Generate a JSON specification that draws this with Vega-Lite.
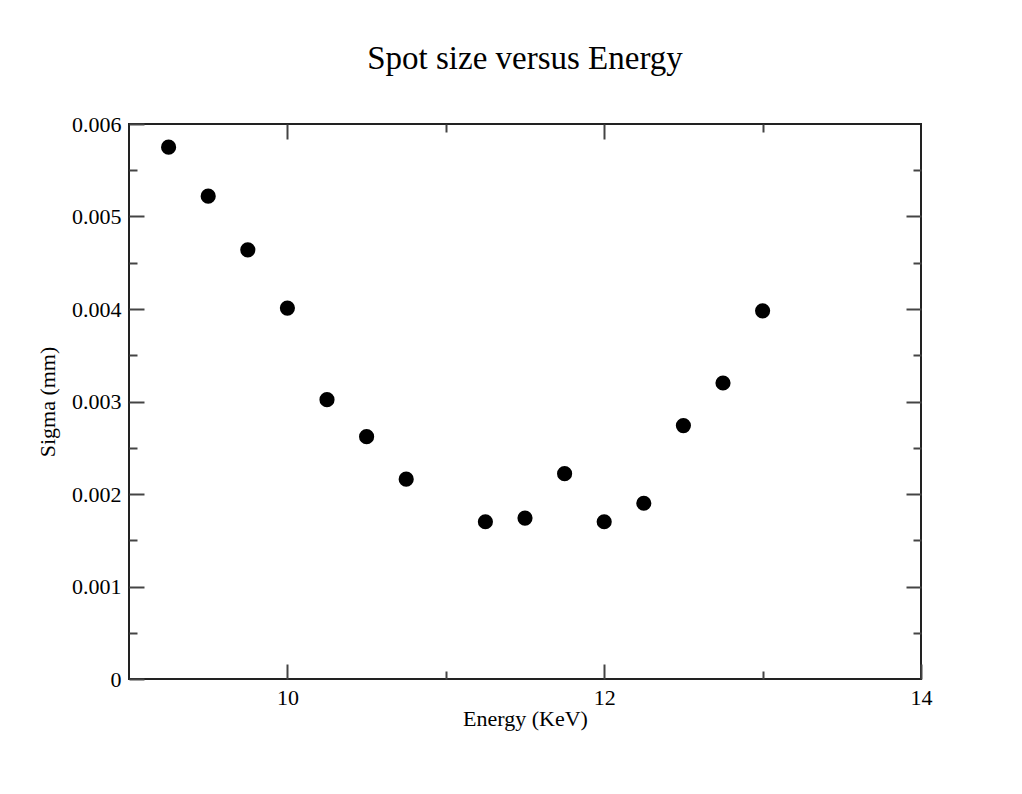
{
  "$schema": "https://vega.github.io/schema/vega-lite/v6.json",
  "autosize": "none",
  "width": 792,
  "height": 555,
  "padding": {"left": 129, "top": 124, "right": 101, "bottom": 115},
  "background": "white",
  "config": {
    "view": {"stroke": "#222", "strokeWidth": 2},
    "font": "Liberation Serif",
    "axis": {"domain": false, "grid": false, "labelFlush": false, "labelOverlap": false, "tickColor": "#444", "tickWidth": 2, "labelFont": "Liberation Serif", "labelFontSize": 22, "labelColor": "black", "titleFont": "Liberation Serif", "titleFontSize": 22, "titleFontWeight": "normal", "titleColor": "black"}
  },
  "title": {"text": "Spot size versus Energy", "font": "Liberation Serif", "fontSize": 33, "fontWeight": "normal", "color": "black", "offset": 37, "anchor": "middle"},
  "data": {"values": [
    {"energy": 9.25, "sigma": 0.00575},
    {"energy": 9.5, "sigma": 0.00522},
    {"energy": 9.75, "sigma": 0.00464},
    {"energy": 10, "sigma": 0.00401},
    {"energy": 10.25, "sigma": 0.00302},
    {"energy": 10.5, "sigma": 0.00262},
    {"energy": 10.75, "sigma": 0.00216},
    {"energy": 11.25, "sigma": 0.00170},
    {"energy": 11.5, "sigma": 0.00174},
    {"energy": 11.75, "sigma": 0.00222},
    {"energy": 12, "sigma": 0.00170},
    {"energy": 12.25, "sigma": 0.00190},
    {"energy": 12.5, "sigma": 0.00274},
    {"energy": 12.75, "sigma": 0.00320},
    {"energy": 13, "sigma": 0.00398}
  ]},
  "layer": [
    {
      "mark": {"type": "point", "filled": true, "color": "black", "opacity": 1, "size": 230},
      "encoding": {
        "x": {"field": "energy", "type": "quantitative", "scale": {"domain": [9, 14], "nice": false, "zero": false},
              "axis": {"orient": "bottom", "values": [10, 12, 14], "format": "~g", "tickSize": -15, "labelPadding": 23, "title": "Energy (KeV)", "titlePadding": 0}},
        "y": {"field": "sigma", "type": "quantitative", "scale": {"domain": [0, 0.006], "nice": false, "zero": true},
              "axis": {"orient": "left", "values": [0, 0.001, 0.002, 0.003, 0.004, 0.005, 0.006], "format": "~g", "tickSize": -15, "labelPadding": 23, "title": "Sigma (mm)", "titlePadding": 12}}
      }
    },
    {
      "mark": {"type": "point", "opacity": 0},
      "encoding": {
        "x": {"field": "energy", "type": "quantitative", "axis": {"orient": "bottom", "values": [11, 13], "tickSize": -8, "labels": false, "title": null}},
        "y": {"field": "sigma", "type": "quantitative", "axis": {"orient": "left", "values": [0.0005, 0.0015, 0.0025, 0.0035, 0.0045, 0.0055], "tickSize": -8, "labels": false, "title": null}}
      }
    },
    {
      "mark": {"type": "point", "opacity": 0},
      "encoding": {
        "x": {"field": "energy", "type": "quantitative", "axis": {"orient": "top", "values": [10, 12], "tickSize": -15, "labels": false, "title": null}},
        "y": {"field": "sigma", "type": "quantitative", "axis": {"orient": "right", "values": [0.001, 0.002, 0.003, 0.004, 0.005], "tickSize": -15, "labels": false, "title": null}}
      }
    },
    {
      "mark": {"type": "point", "opacity": 0},
      "encoding": {
        "x": {"field": "energy", "type": "quantitative", "axis": {"orient": "top", "values": [11, 13], "tickSize": -8, "labels": false, "title": null}},
        "y": {"field": "sigma", "type": "quantitative", "axis": {"orient": "right", "values": [0.0005, 0.0015, 0.0025, 0.0035, 0.0045, 0.0055], "tickSize": -8, "labels": false, "title": null}}
      }
    }
  ],
  "resolve": {"axis": {"x": "independent", "y": "independent"}}
}
